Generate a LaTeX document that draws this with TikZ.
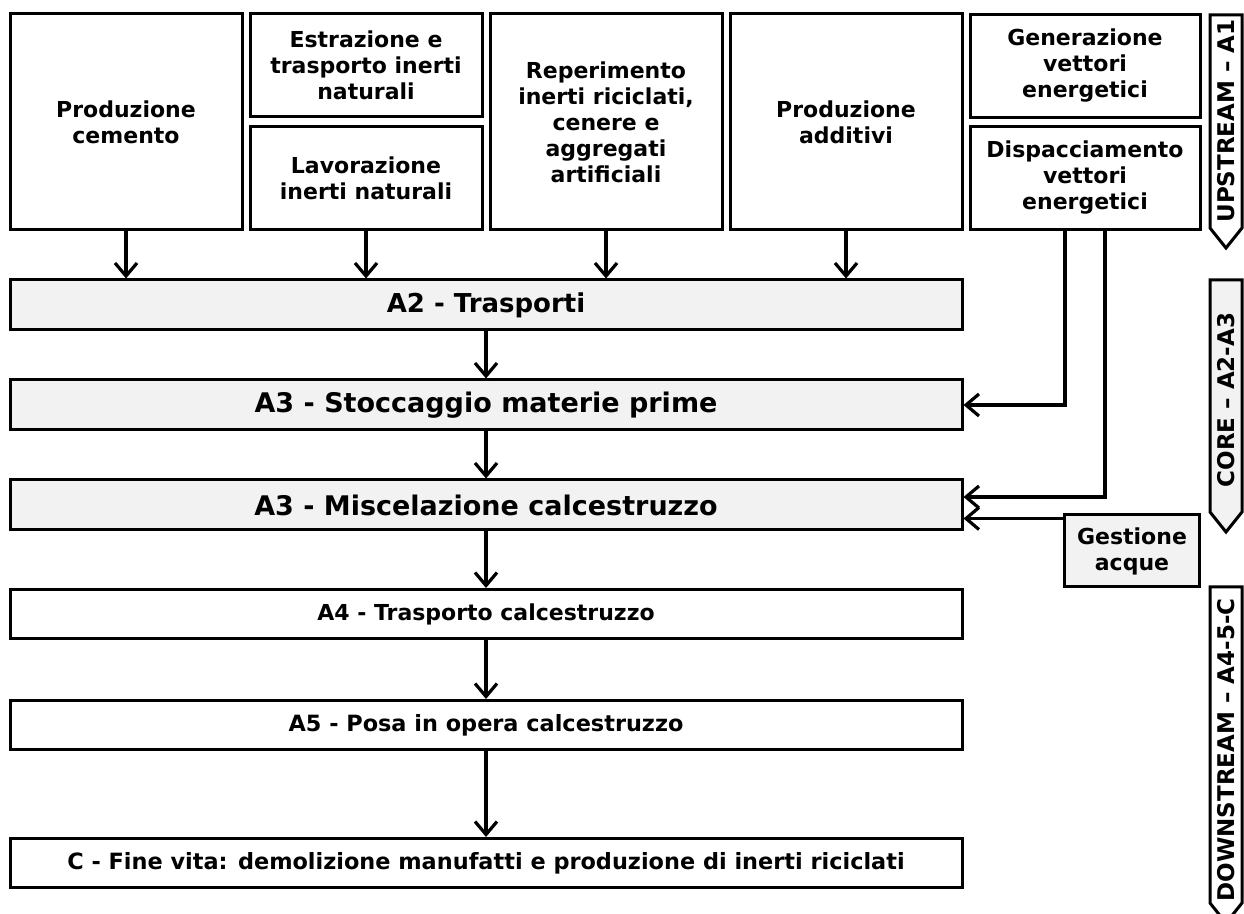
\documentclass[tikz,border=0pt]{standalone}
\usepackage{fontspec}
\setmainfont{DejaVu Sans}
\usepackage{tikz}
\usetikzlibrary{arrows.meta, calc}

\definecolor{boxgray}{HTML}{F2F2F2}

\tikzset{
  box/.style={draw, line width=1.5pt, align=center, inner sep=0pt, font=\bfseries\fontsize{11}{13}\selectfont},
  upbox/.style={box, minimum width=116pt, minimum height=108pt},
  halfbox/.style={box, minimum width=116pt, minimum height=51.5pt},
  phase/.style={box, fill=boxgray, minimum width=476pt, minimum height=25pt, font=\bfseries\fontsize{13.5}{15}\selectfont},
  stage/.style={box, minimum width=476pt, minimum height=24.5pt, font=\bfseries\fontsize{11.2}{13}\selectfont},
  arr/.style={line width=1.6pt, -{Straight Barb[length=6.5pt, width=11pt, line width=1.6pt]}},
  side/.style={draw, line width=1.5pt},
  sidetext/.style={rotate=90, font=\bfseries\fontsize{11.5}{13}\selectfont}
}

\begin{document}
\begin{tikzpicture}[x=0.5pt, y=-0.5pt]
  \useasboundingbox (0,0) rectangle (1244,914);

  % upstream
  \node[upbox] (cem) at (126,122) {Produzione\\cemento};
  \node[halfbox] (estr) at (366,65) {Estrazione e\\trasporto inerti\\naturali};
  \node[halfbox] (lav) at (366,178) {Lavorazione\\inerti naturali};
  \node[upbox] (rep) at (606,122) {Reperimento\\inerti riciclati,\\cenere e\\aggregati\\artificiali};
  \node[upbox] (add) at (846,122) {Produzione\\additivi};
  \node[halfbox, minimum width=115pt] (gen) at (1085,66) {Generazione\\vettori\\energetici};
  \node[halfbox, minimum width=115pt] (disp) at (1085,178) {Dispacciamento\\vettori\\energetici};

  % core
  \node[phase, font=\bfseries\fontsize{13}{15}\selectfont] (tra) at (486,305) {A2 - Trasporti};
  \node[phase] (stoc) at (486,405) {A3 - Stoccaggio materie prime};
  \node[phase] (misc) at (486,505) {A3 - Miscelazione calcestruzzo};
  \node[box, fill=boxgray, minimum width=67.5pt, minimum height=36pt] (ges) at (1132,551) {Gestione\\acque};

  % downstream
  \node[stage, font=\bfseries\fontsize{11}{13}\selectfont] (tcal) at (486,614) {A4 - Trasporto calcestruzzo};
  \node[stage] (posa) at (486,725) {A5 - Posa in opera calcestruzzo};
  \node[stage] (fine) at (486,863) {C - Fine vita: demolizione manufatti e produzione di inerti riciclati};

  \foreach \a in {cem,lav,rep,add}
    \draw[arr] (\a.south) -- (\a.south |- tra.north);
  \draw[arr] (tra) -- (stoc);
  \draw[arr] (stoc) -- (misc);
  \draw[arr] (misc) -- (tcal);
  \draw[arr] (tcal) -- (posa);
  \draw[arr] (posa) -- (fine);
  \draw[arr] ([xshift=-10pt]disp.south) |- (stoc.east);
  \draw[arr] ([xshift=10pt]disp.south) |- ([yshift=4pt]misc.east);
  \draw[arr] ([yshift=-2.5pt]ges.north west) -- ([yshift=-2.5pt]ges.north west -| misc.east);

  % side labels
  \draw[side] (1210,15) -- (1242,15) -- (1242,228) -- (1226,248) -- (1210,228) -- cycle;
  \node[sidetext] (lup) at (1226,121) {UPSTREAM – A1};
  \draw[side, fill=boxgray] (1210,280) -- (1242,280) -- (1242,512) -- (1226,532) -- (1210,512) -- cycle;
  \node[sidetext] (lcore) at (1226,400) {CORE – A2-A3};
  \draw[side] (1210,587) -- (1242,587) -- (1242,903) -- (1226,923) -- (1210,903) -- cycle;
  \node[sidetext] (ldown) at (1226,750) {DOWNSTREAM – A4-5-C};
\end{tikzpicture}
\end{document}
